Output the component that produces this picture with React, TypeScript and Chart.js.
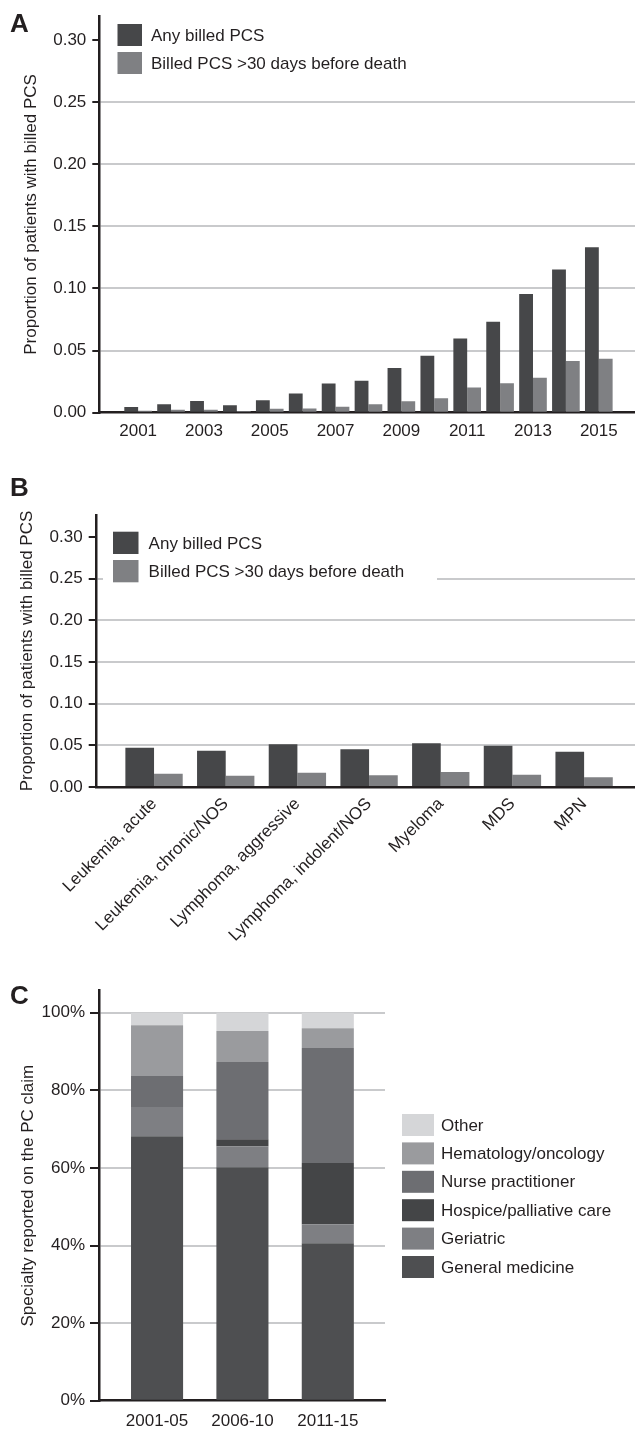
import React, { useEffect, useRef } from 'react';
import { Chart, registerables } from 'chart.js';

Chart.register(...registerables);

// ---------- Data ----------
const years = [2001, 2002, 2003, 2004, 2005, 2006, 2007, 2008, 2009, 2010, 2011, 2012, 2013, 2014, 2015];
const anyBilledByYear = [0.0045, 0.0068, 0.0095, 0.006, 0.01, 0.0155, 0.0234, 0.0258, 0.036, 0.0458, 0.0597, 0.0732, 0.0955, 0.1152, 0.1332];
const billed30ByYear = [0.0016, 0.0024, 0.0024, 0.0013, 0.0032, 0.0034, 0.0047, 0.0068, 0.0092, 0.0116, 0.0203, 0.0237, 0.0282, 0.0416, 0.0434];
const yearTickLabels = [2001, 2003, 2005, 2007, 2009, 2011, 2013, 2015];

const cancerTypes = ['Leukemia, acute', 'Leukemia, chronic/NOS', 'Lymphoma, aggressive', 'Lymphoma, indolent/NOS', 'Myeloma', 'MDS', 'MPN'];
const anyBilledByType = [0.0472, 0.0436, 0.0512, 0.0452, 0.0524, 0.0496, 0.0424];
const billed30ByType = [0.016, 0.0136, 0.0172, 0.014, 0.018, 0.0148, 0.0116];

const proportionTicks = [0, 0.05, 0.1, 0.15, 0.2, 0.25, 0.3];

const periods = ['2001-05', '2006-10', '2011-15'];
const generalMedicine = [68.2, 60.2, 40.6];
const geriatric = [7.5, 5.4, 4.9];
const hospicePalliative = [0, 1.8, 15.8];
const nursePractitioner = [8.0, 19.9, 29.6];
const hematologyOncology = [13.1, 8.0, 5.1];
const otherSpecialty = [3.2, 4.7, 4.0];
const percentTicks = [0, 20, 40, 60, 80, 100];

const seriesLabels = ['Any billed PCS', 'Billed PCS >30 days before death'];
const specialtyLabels = ['General medicine', 'Geriatric', 'Hospice/palliative care', 'Nurse practitioner', 'Hematology/oncology', 'Other'];

// ---------- Style ----------
const FONT = '"Liberation Sans", Arial, Helvetica, sans-serif';
const INK = '#231f20';
const GRID = '#c9cacc';
const DARK = '#464749';
const LIGHT = '#7f8083';
const specialtyColors = ['#4e4f51', '#7e7f83', '#444547', '#6d6e72', '#9a9b9e', '#d5d6d8'];

function boxLegend(id: string, o: any) {
  return {
    id,
    afterDraw(chart: any) {
      const { ctx } = chart;
      const ds = chart.data.datasets.slice();
      const list = o.reverse ? ds.reverse() : ds;
      ctx.save();
      if (o.bg) {
        ctx.fillStyle = '#ffffff';
        ctx.fillRect(o.bg[0], o.bg[1], o.bg[2], o.bg[3]);
      }
      ctx.font = `17px ${FONT}`;
      ctx.textBaseline = 'middle';
      ctx.textAlign = 'left';
      list.forEach((d: any, i: number) => {
        const y = o.y + i * o.step;
        ctx.fillStyle = d.backgroundColor;
        ctx.fillRect(o.x, y, o.w, o.h);
        ctx.fillStyle = INK;
        ctx.fillText(d.label, o.textX, y + o.h / 2 + 1);
      });
      ctx.restore();
    },
  };
}

const tickFont = { family: FONT, size: 17 };

function yGridColor(hideTop: number) {
  return (c: any) => {
    const v = c.tick ? c.tick.value : 0;
    if (v === 0 || Math.abs(v - hideTop) < 1e-9) return 'rgba(0,0,0,0)';
    return GRID;
  };
}

function proportionY(max: number, axisWidth: number, tickLength: number, titlePad: number) {
  return {
    type: 'linear',
    min: 0,
    max,
    afterBuildTicks: (s: any) => { s.ticks = proportionTicks.map((v) => ({ value: v })); },
    afterFit: (s: any) => { s.width = axisWidth; },
    grid: { color: yGridColor(0.3), lineWidth: 2, tickColor: INK, tickWidth: 2, tickLength, drawTicks: true },
    border: { color: INK, width: 2.5 },
    ticks: { font: tickFont, color: INK, padding: 6, callback: (v: any) => Number(v).toFixed(2) },
    title: { display: true, text: 'Proportion of patients with billed PCS', font: tickFont, color: INK, padding: { top: titlePad, bottom: 0 } },
  };
}

const configA: any = {
  type: 'bar',
  data: {
    datasets: [
      { label: seriesLabels[0], data: years.map((yr, i) => ({ x: yr, y: anyBilledByYear[i] })), backgroundColor: DARK },
      { label: seriesLabels[1], data: years.map((yr, i) => ({ x: yr, y: billed30ByYear[i] })), backgroundColor: LIGHT },
    ],
  },
  options: {
    responsive: false,
    animation: false,
    layout: { padding: { top: 8.3, left: 0, right: 0, bottom: 0 } },
    datasets: { bar: { categoryPercentage: 0.84, barPercentage: 1 } },
    plugins: { legend: { display: false }, tooltip: { enabled: false } },
    scales: {
      x: {
        type: 'linear',
        offset: false,
        min: 1999.82,
        max: 2016.1,
        afterBuildTicks: (s: any) => { s.ticks = yearTickLabels.map((v) => ({ value: v })); },
        afterFit: (s: any) => { s.height = 27.3; },
        grid: { display: false, drawTicks: false, offset: false },
        border: { color: INK, width: 2.5 },
        ticks: { font: tickFont, color: INK, padding: 8, autoSkip: false, maxRotation: 0, callback: (v: any) => String(v) },
      },
      y: proportionY(0.319, 99.3, 7, 21.3),
    },
  },
  plugins: [boxLegend('legendA', { x: 117.5, y: 24, w: 24.5, h: 22, step: 28, textX: 151 })],
};

const configB: any = {
  type: 'bar',
  data: {
    datasets: [
      { label: seriesLabels[0], data: cancerTypes.map((_, i) => ({ x: i, y: anyBilledByType[i] })), backgroundColor: DARK },
      { label: seriesLabels[1], data: cancerTypes.map((_, i) => ({ x: i, y: billed30ByType[i] })), backgroundColor: LIGHT },
    ],
  },
  options: {
    responsive: false,
    animation: false,
    layout: { padding: { top: 45, left: 0, right: 0, bottom: 0 } },
    datasets: { bar: { categoryPercentage: 0.8, barPercentage: 1 } },
    plugins: { legend: { display: false }, tooltip: { enabled: false } },
    scales: {
      x: {
        type: 'linear',
        offset: false,
        min: -0.8,
        max: 6.71,
        afterBuildTicks: (s: any) => { s.ticks = cancerTypes.map((_, i) => ({ value: i })); },
        afterFit: (s: any) => { s.height = 173; },
        grid: { display: false, drawTicks: false, offset: false },
        border: { color: INK, width: 2.5 },
        ticks: { font: tickFont, color: INK, padding: 7, autoSkip: false, minRotation: 45, maxRotation: 45, callback: (v: any) => cancerTypes[Math.round(v)] },
      },
      y: proportionY(0.3265, 96.7, 8, 17.4),
    },
  },
  plugins: [boxLegend('legendB', { x: 113, y: 61.7, w: 25.5, h: 22.3, step: 28.3, textX: 148.6, bg: [103, 55, 334, 66] })],
};

const specialtySeries = [generalMedicine, geriatric, hospicePalliative, nursePractitioner, hematologyOncology, otherSpecialty];

const configC: any = {
  type: 'bar',
  data: {
    datasets: specialtySeries.map((arr, k) => ({
      label: specialtyLabels[k],
      data: periods.map((_, i) => ({ x: i, y: arr[i] })),
      backgroundColor: specialtyColors[k],
    })),
  },
  options: {
    responsive: false,
    animation: false,
    layout: { padding: { top: 30.7, left: 0, right: 250, bottom: 0 } },
    datasets: { bar: { categoryPercentage: 0.61, barPercentage: 1 } },
    plugins: { legend: { display: false }, tooltip: { enabled: false } },
    scales: {
      x: {
        type: 'linear',
        offset: false,
        stacked: true,
        min: -0.68,
        max: 2.67,
        afterBuildTicks: (s: any) => { s.ticks = periods.map((_, i) => ({ value: i })); },
        afterFit: (s: any) => { s.height = 28.3; },
        grid: { display: false, drawTicks: false, offset: false },
        border: { color: INK, width: 2.5 },
        ticks: { font: tickFont, color: INK, padding: 10, autoSkip: false, maxRotation: 0, callback: (v: any) => periods[Math.round(v)] },
      },
      y: {
        type: 'linear',
        stacked: true,
        min: 0,
        max: 105.7,
        afterBuildTicks: (s: any) => { s.ticks = percentTicks.map((v) => ({ value: v })); },
        afterFit: (s: any) => { s.width = 99; },
        grid: { color: yGridColor(-1), lineWidth: 2, tickColor: INK, tickWidth: 2, tickLength: 9, drawTicks: true },
        border: { color: INK, width: 2.5 },
        ticks: { font: tickFont, color: INK, padding: 5, callback: (v: any) => `${v}%` },
        title: { display: true, text: 'Specialty reported on the PC claim', font: tickFont, color: INK, padding: { top: 18.6, bottom: 0 } },
      },
    },
  },
  plugins: [boxLegend('legendC', { x: 402, y: 154, w: 32, h: 22, step: 28.4, textX: 441, reverse: true })],
};

function ChartBox({ config, top, height }: { config: any; top: number; height: number }) {
  const ref = useRef<HTMLCanvasElement | null>(null);
  useEffect(() => {
    if (!ref.current) return;
    const chart = new Chart(ref.current, config);
    return () => chart.destroy();
  }, [config]);
  return (
    <div style={{ position: 'absolute', left: 0, top, width: 635, height }}>
      <canvas ref={ref} width={635} height={height} style={{ display: 'block', width: 635, height }} />
    </div>
  );
}

const letterStyle: React.CSSProperties = {
  position: 'absolute',
  left: 10,
  fontFamily: FONT,
  fontWeight: 700,
  fontSize: 26,
  lineHeight: '26px',
  color: INK,
};

export default function App() {
  return (
    <div style={{ position: 'absolute', left: 0, top: 0, width: 635, height: 1429, background: '#ffffff', overflow: 'hidden' }}>
      <ChartBox config={configA} top={0} height={440} />
      <ChartBox config={configB} top={470} height={490} />
      <ChartBox config={configC} top={960} height={469} />
      <div style={{ ...letterStyle, top: 9.5 }}>A</div>
      <div style={{ ...letterStyle, top: 473.5 }}>B</div>
      <div style={{ ...letterStyle, top: 982 }}>C</div>
    </div>
  );
}
